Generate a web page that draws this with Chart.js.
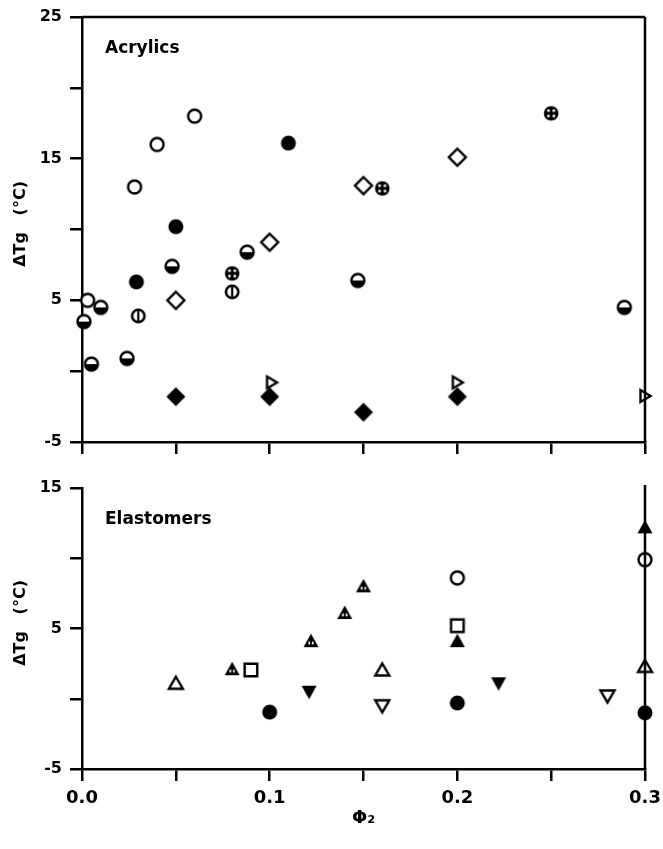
<!DOCTYPE html>
<html>
<head>
<meta charset="utf-8">
<script src="https://cdn.jsdelivr.net/npm/chart.js@4"></script>
<style>
  body { margin: 0; background: #fff; }
  #wrap { position: relative; width: 663px; height: 849px; }
  canvas { position: absolute; left: 0; }
  #topChart { top: 0; }
  #bottomChart { top: 470px; }
</style>
</head>
<body>
<div id="wrap">
  <canvas id="topChart" width="663" height="460"></canvas>
  <canvas id="bottomChart" width="663" height="379"></canvas>
</div>
<script>
const topTitle = 'Acrylics';
const bottomTitle = 'Elastomers';
const xAxisTitle = 'Φ₂';
const yAxisTitle = '  ΔTg   (°C)';
const xTickLabels = ['0.0', '0.1', '0.2', '0.3'];
const topYTickLabels = ['25', '15', '5', '-5'];
const bottomYTickLabels = ['15', '5', '-5'];

// acrylics, [phi2, dTg]
const acOpenCircle = [[0.003, 5], [0.028, 13], [0.04, 16], [0.06, 18]];
const acFilledCircle = [[0.029, 6.3], [0.05, 10.2], [0.11, 16.1]];
const acHalfCircle = [[0.001, 3.5], [0.005, 0.5], [0.01, 4.5], [0.024, 0.9], [0.048, 7.4], [0.088, 8.4], [0.147, 6.4], [0.289, 4.5]];
const acSplitCircle = [[0.03, 3.9], [0.08, 5.6]];
const acCrossCircle = [[0.08, 6.9], [0.16, 12.9], [0.25, 18.2]];
const acOpenDiamond = [[0.05, 5], [0.1, 9.1], [0.15, 13.1], [0.2, 15.1]];
const acFilledDiamond = [[0.05, -1.8], [0.1, -1.8], [0.15, -2.9], [0.2, -1.8]];
const acOpenFlag = [[0.101, -0.8], [0.2, -0.8], [0.3, -1.75]];

// elastomers
const elOpenTri = [[0.05, 1.1], [0.16, 2.05], [0.3, 2.3]];
const elShadedTri = [[0.08, 2.1], [0.122, 4.1], [0.14, 6.1], [0.15, 8.0]];
const elOpenSquare = [[0.09, 2.05], [0.2, 5.2]];
const elFilledCircle = [[0.1, -0.95], [0.2, -0.3], [0.3, -1.0]];
const elFilledDown = [[0.121, 0.5], [0.222, 1.1]];
const elOpenDown = [[0.16, -0.5], [0.28, 0.2]];
const elOpenCircle = [[0.2, 8.6], [0.3, 9.9]];
const elFilledTri = [[0.2, 4.1], [0.3, 12.2]];

Chart.defaults.font.family = '"DejaVu Sans", sans-serif';
Chart.defaults.color = '#000';

// marker images
function mk(draw) {
    const c = document.createElement('canvas');
    c.width = 24; c.height = 24;
    const g = c.getContext('2d');
    g.translate(12, 12);
    g.lineWidth = 2.4;
    g.strokeStyle = '#000';
    g.fillStyle = '#000';
    draw(g);
    return c;
}
function poly(g, pts) {
    g.beginPath();
    g.moveTo(pts[0][0], pts[0][1]);
    for (let i = 1; i < pts.length; i++) g.lineTo(pts[i][0], pts[i][1]);
    g.closePath();
}
function hollow(g) {
    g.fillStyle = '#fff'; g.fill();
    g.stroke();
}
function circle(g, r) { g.beginPath(); g.arc(0, 0, r, 0, Math.PI * 2); }

const mOpenCircle = mk(g => { circle(g, 6.5); hollow(g); });
const mFilledCircle = mk(g => { circle(g, 7.5); g.fill(); });
const mHalfCircle = mk(g => {
    circle(g, 6.5); g.fillStyle = '#fff'; g.fill();
    g.fillStyle = '#000'; g.beginPath(); g.arc(0, 0, 6.7, 0, Math.PI); g.fill();
    g.fillRect(-6.5, 0, 13, 1);
    circle(g, 6.5); g.stroke();
});
const mSplitCircle = mk(g => {
    g.lineWidth = 2.6; circle(g, 6.2); hollow(g);
    g.lineWidth = 2.2; g.beginPath(); g.moveTo(0, -6); g.lineTo(0, 6); g.stroke();
});
const mCrossCircle = mk(g => {
    circle(g, 7.3); g.fill();
    g.fillStyle = '#fff';
    [[-2.7, -2.7], [2.7, -2.7], [-2.7, 2.7], [2.7, 2.7]].forEach(p => {
        g.beginPath(); g.arc(p[0], p[1], 1.4, 0, Math.PI * 2); g.fill();
    });
});
const mOpenDiamond = mk(g => { poly(g, [[0, -8.5], [8.5, 0], [0, 8.5], [-8.5, 0]]); hollow(g); });
const mFilledDiamond = mk(g => { poly(g, [[0, -9.5], [9.5, 0], [0, 9.5], [-9.5, 0]]); g.fill(); });
const mOpenFlag = mk(g => { poly(g, [[-4.5, -6], [5.5, 0], [-4.5, 6]]); hollow(g); });
const mOpenTri = mk(g => { poly(g, [[0, -6.5], [7, 5.5], [-7, 5.5]]); hollow(g); });
const mShadedTri = mk(g => {
    poly(g, [[0, -7.5], [7.5, 6], [-7.5, 6]]); g.fill();
    g.fillStyle = '#fff';
    g.fillRect(-2.6, 0.5, 1.7, 2.8);
    g.fillRect(0.9, 0.5, 1.7, 2.8);
});
const mOpenSquare = mk(g => { g.beginPath(); g.rect(-6.3, -6.3, 12.6, 12.6); hollow(g); });
const mFilledDown = mk(g => { poly(g, [[-7.5, -6], [7.5, -6], [0, 7.5]]); g.fill(); });
const mOpenDown = mk(g => { poly(g, [[-7, -5.5], [7, -5.5], [0, 6.5]]); hollow(g); });
const mFilledTri = mk(g => { poly(g, [[0, -7.5], [7.5, 6], [-7.5, 6]]); g.fill(); });

function ds(points, style) {
    return {
        data: points.map(p => ({x: p[0], y: p[1]})),
        pointStyle: style,
        pointRadius: 8,
        showLine: false,
        clip: false
    };
}

function isLabelStep(v, labels) {
    return labels.includes(String(Math.round(v)));
}

// frame lines and panel name
const panelDecor = {
    id: 'panelDecor',
    afterDraw(chart, args, opts) {
        const {ctx, chartArea: a} = chart;
        ctx.save();
        ctx.strokeStyle = '#000';
        ctx.lineWidth = 2.5;
        ctx.beginPath();
        if (opts.topLine) {
            ctx.moveTo(a.left, a.top);
            ctx.lineTo(a.right, a.top);
        }
        ctx.moveTo(a.right, a.top - opts.rightOver);
        ctx.lineTo(a.right, a.bottom);
        ctx.stroke();
        ctx.font = 'bold 17px "DejaVu Sans"';
        ctx.fillStyle = '#000';
        ctx.fillText(opts.name, a.left + 23, a.top + 36);
        ctx.restore();
    }
};

function makeChart(id, datasets, yMax, yLabels, showX, pad, xHeight, name, topLine) {
    return new Chart(document.getElementById(id), {
        type: 'scatter',
        data: {datasets: datasets},
        plugins: [panelDecor],
        options: {
            responsive: false,
            animation: false,
            layout: {padding: pad},
            plugins: {
                legend: {display: false},
                tooltip: {enabled: false},
                panelDecor: {name: name, topLine: topLine, rightOver: topLine ? 0 : 3}
            },
            scales: {
                x: {
                    type: 'linear',
                    min: 0,
                    max: 0.3,
                    border: {color: '#000', width: 2.5},
                    grid: {drawOnChartArea: false, color: '#000', lineWidth: 2.5, tickLength: 12},
                    ticks: {
                        stepSize: 0.05,
                        autoSkip: false,
                        maxRotation: 0,
                        padding: 7,
                        font: {size: 18, weight: 'bold'},
                        callback: v => {
                            const lab = v.toFixed(1);
                            return showX && Math.abs(v - Number(lab)) < 1e-6 && xTickLabels.includes(lab) ? lab : '';
                        }
                    },
                    title: {
                        display: showX,
                        text: xAxisTitle,
                        font: {size: 18, weight: 'bold'},
                        padding: {top: 0, bottom: 0}
                    },
                    afterFit: s => {
                        s.height = xHeight;
                        s.paddingLeft = 0;
                        s.paddingRight = 0;
                    }
                },
                y: {
                    min: -5,
                    max: yMax,
                    border: {color: '#000', width: 2.5},
                    grid: {drawOnChartArea: false, color: '#000', lineWidth: 2.5, tickLength: 12},
                    ticks: {
                        stepSize: 5,
                        padding: 8,
                        font: {size: 16, weight: 'bold'},
                        callback: v => isLabelStep(v, yLabels) ? String(v) : ''
                    },
                    title: {
                        display: true,
                        text: yAxisTitle,
                        font: {size: 16, weight: 'bold'},
                        padding: {top: 11, bottom: 0}
                    },
                    afterFit: s => {
                        s.width = 82;
                        s.paddingTop = 0;
                        s.paddingBottom = 0;
                    }
                }
            }
        }
    });
}

makeChart('topChart', [
    ds(acOpenCircle, mOpenCircle),
    ds(acFilledCircle, mFilledCircle),
    ds(acHalfCircle, mHalfCircle),
    ds(acSplitCircle, mSplitCircle),
    ds(acCrossCircle, mCrossCircle),
    ds(acOpenDiamond, mOpenDiamond),
    ds(acFilledDiamond, mFilledDiamond),
    ds(acOpenFlag, mOpenFlag)
], 25, topYTickLabels, false, {top: 17, right: 18, bottom: 0, left: 0}, 18, topTitle, true);

makeChart('bottomChart', [
    ds(elOpenTri, mOpenTri),
    ds(elShadedTri, mShadedTri),
    ds(elOpenSquare, mOpenSquare),
    ds(elFilledCircle, mFilledCircle),
    ds(elFilledDown, mFilledDown),
    ds(elOpenDown, mOpenDown),
    ds(elOpenCircle, mOpenCircle),
    ds(elFilledTri, mFilledTri)
], 15, bottomYTickLabels, true, {top: 18, right: 18, bottom: 20, left: 0}, 60, bottomTitle, false);
</script>
</body>
</html>
